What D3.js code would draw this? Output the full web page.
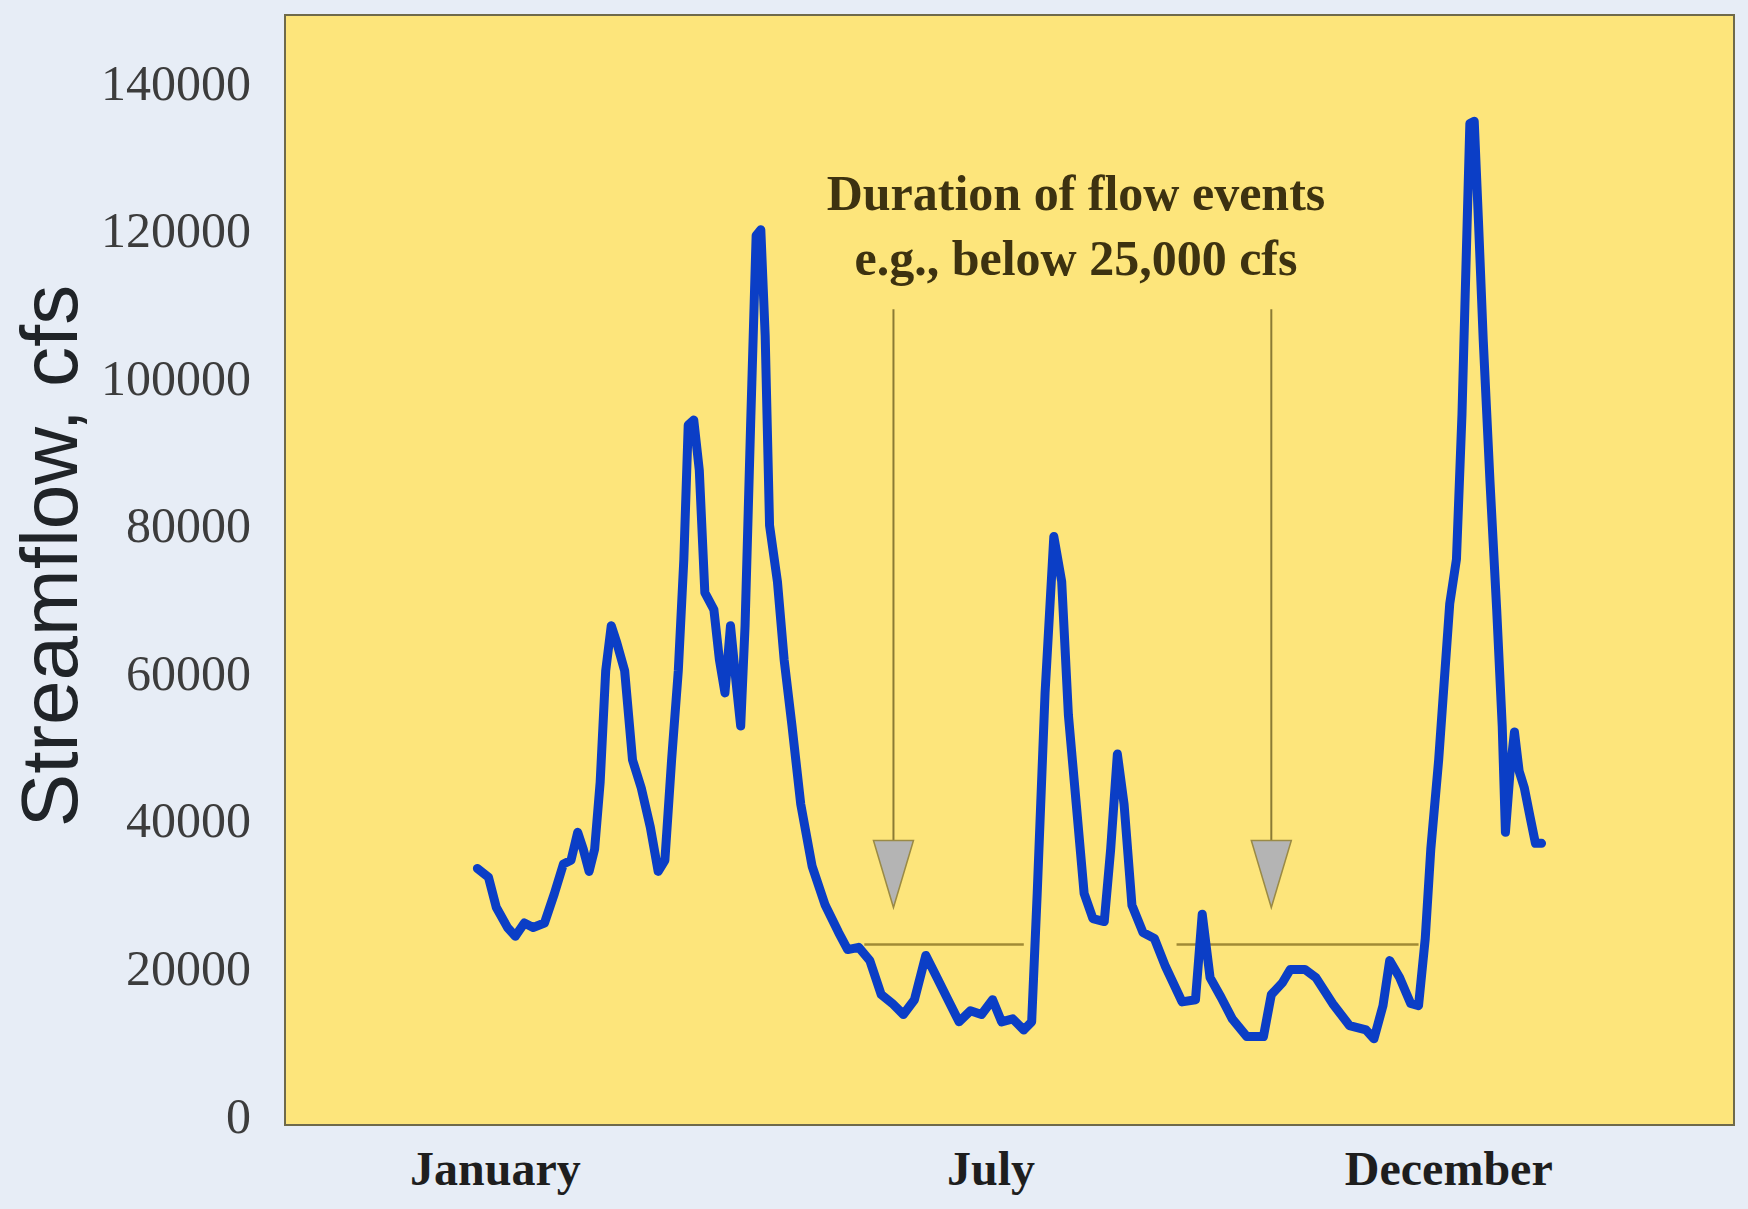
<!DOCTYPE html>
<html>
<head>
<meta charset="utf-8">
<script src="https://cdn.jsdelivr.net/npm/d3@7"></script>
<style>
  html, body { margin: 0; padding: 0; background: #e7edf6; }
  svg { display: block; }
</style>
</head>
<body>
<svg id="chart" width="1748" height="1209"></svg>
<script>
// ---- Data ----
const days = [0, 3.8, 6.5, 10.3, 13, 16.1, 19.1, 23, 26.4, 29.5, 32.1, 34.4, 36.3, 38.3, 40.2, 42.1, 44, 45.9, 47.8, 50.5,
  53.2, 56.2, 59.3, 62, 64.3, 66.6, 68.9, 70.8, 72.3, 74.2, 76.1, 78, 81.1, 83, 84.9, 86.8, 88.7, 90.3, 91.8, 93.7,
  95.6, 97.2, 98.7, 100.2, 102.9, 105.2, 107.9, 110.9, 114.8, 119.3, 123.9, 127, 130.8, 134.6, 138.5, 142.3, 146.1, 149.9, 153.8, 157.6,
  161.4, 165.2, 169.1, 172.9, 176.7, 179.8, 183.6, 187.4, 190.1, 192, 194.7, 197.7, 200.4, 202.7, 205.4, 208.1, 211.1, 215, 217.2, 219.5,
  221.8, 224.5, 228.3, 232.2, 236, 241.7, 246.3, 248.6, 251.3, 255.1, 258.9, 263.9, 269.6, 272.3, 276.1, 278.8, 283.8, 287.6, 293.3, 299.1,
  304.8, 307.5, 310.6, 312.9, 316.3, 320.1, 322.8, 325.1, 327, 329.7, 333.5, 335.8, 337.7, 339.2, 340.4, 341.9, 343.4, 345, 347.3, 349.6,
  351.5, 352.6, 354.2, 355.7, 357.3, 359.1, 361, 362.9, 365];
const flow = [33700, 32500, 28400, 25700, 24500, 26300, 25700, 26300, 30300, 34300, 34800, 38600, 36300, 33300, 36300, 45400, 60500, 66600, 64300, 60500,
  48400, 44600, 39300, 33300, 34800, 48400, 60500, 75600, 93800, 94500, 87700, 71100, 68800, 62000, 57500, 66600, 59000, 53000, 66600, 93800,
  119500, 120300, 105900, 80200, 72600, 62000, 53000, 42400, 34000, 28700, 25000, 22700, 23000, 21200, 16600, 15400, 13900, 15900, 21900, 18900,
  15900, 12900, 14400, 13900, 15900, 12900, 13300, 11800, 12900, 30300, 57500, 78700, 72600, 54500, 42400, 30300, 26900, 26500, 36300, 49200,
  42400, 28700, 25000, 24200, 20400, 15600, 15900, 27500, 18900, 16200, 13300, 10900, 10900, 16600, 18200, 20000, 20000, 18900, 15400, 12400,
  11800, 10600, 15100, 21200, 18900, 15400, 15100, 24200, 36300, 48400, 69600, 75600, 95300, 117300, 134700, 135000, 121000, 105200, 86200, 68800,
  53000, 38600, 46900, 52200, 46900, 44600, 40800, 37100, 37100];

const yTickValues = [0, 20000, 40000, 60000, 80000, 100000, 120000, 140000];
const monthLabels = ["January", "July", "December"];
const monthLabelDays = [6, 176, 333];

const thresholdValue = 23400;
const thresholdStartDays = [132.7, 239.8];
const thresholdEndDays = [187.4, 322.8];

const arrowDays = [142.7, 272.3];
const arrowTopValue = 109500;
const arrowHeadValue = 37500;
const arrowTipValue = 28400;

const noteLines = ["Duration of flow events", "e.g., below 25,000 cfs"];
const noteDay = 205.3;
const noteValues = [123000, 114100];

const yTitle = "Streamflow, cfs";

// ---- Layout ----
const W = 1748, H = 1209;
const plot = { left: 285, right: 1734, top: 15, bottom: 1125 };

const svg = d3.select("#chart");

const x = d3.scaleLinear().domain([-66, 431]).range([plot.left, plot.right]);
const y = d3.scaleLinear().domain([0, 150000]).range([1117, 10.6]);

// background
svg.append("rect").attr("x", 0).attr("y", 0).attr("width", W).attr("height", H).attr("fill", "#e7edf6");

// plot area
svg.append("rect")
  .attr("x", plot.left).attr("y", plot.top)
  .attr("width", plot.right - plot.left).attr("height", plot.bottom - plot.top)
  .attr("fill", "#fde57b")
  .attr("stroke", "#6f6a4a").attr("stroke-width", 2);

// y axis
const yAxis = svg.append("g")
  .attr("transform", `translate(${plot.left},0)`)
  .call(d3.axisLeft(y).tickValues(yTickValues).tickSize(0).tickPadding(34).tickFormat(d3.format("d")));
yAxis.select(".domain").remove();
yAxis.selectAll("text")
  .attr("font-family", "'Liberation Serif', 'Times New Roman', serif")
  .attr("font-size", 50)
  .attr("fill", "#3c3c3c")
  .attr("dy", "0.3em");

// x axis labels
const xAxis = svg.append("g")
  .attr("transform", `translate(0,${plot.bottom})`)
  .call(d3.axisBottom(x).tickValues(monthLabelDays).tickSize(0)
    .tickFormat((d, i) => monthLabels[i]));
xAxis.select(".domain").remove();
xAxis.selectAll("text")
  .attr("font-family", "'Liberation Serif', 'Times New Roman', serif")
  .attr("font-weight", "bold")
  .attr("font-size", 48)
  .attr("fill", "#1e1e1e")
  .attr("y", 60)
  .attr("dy", 0);

// y title
svg.append("text")
  .attr("transform", "translate(77,556) rotate(-90)")
  .attr("text-anchor", "middle")
  .attr("font-family", "'Liberation Sans', Arial, sans-serif")
  .attr("font-size", 80)
  .attr("fill", "#202428")
  .text(yTitle);

// threshold segments
const olive = "#a08a35";
svg.append("g").selectAll("line")
  .data(thresholdStartDays)
  .join("line")
  .attr("x1", d => x(d))
  .attr("x2", (d, i) => x(thresholdEndDays[i]))
  .attr("y1", y(thresholdValue))
  .attr("y2", y(thresholdValue))
  .attr("stroke", olive)
  .attr("stroke-width", 2.5);

// arrows
const arrows = svg.append("g");
arrows.selectAll("line")
  .data(arrowDays)
  .join("line")
  .attr("x1", d => x(d)).attr("x2", d => x(d))
  .attr("y1", y(arrowTopValue)).attr("y2", y(arrowHeadValue))
  .attr("stroke", "#8a7a35").attr("stroke-width", 2);
arrows.selectAll("path")
  .data(arrowDays)
  .join("path")
  .attr("d", d => {
    const cx = x(d), top = y(arrowHeadValue), tip = y(arrowTipValue);
    return `M${cx - 20},${top} L${cx + 20},${top} L${cx},${tip} Z`;
  })
  .attr("fill", "#b4b4b4")
  .attr("stroke", "#9a8a45")
  .attr("stroke-width", 1.5);

// annotation text
svg.append("g").selectAll("text")
  .data(noteLines)
  .join("text")
  .attr("x", x(noteDay))
  .attr("y", (d, i) => y(noteValues[i]))
  .attr("text-anchor", "middle")
  .attr("font-family", "'Liberation Serif', 'Times New Roman', serif")
  .attr("font-weight", "bold")
  .attr("font-size", 50)
  .attr("fill", "#3d3210")
  .text(d => d);

// flow line
const pts = days.map((d, i) => [d, flow[i]]);
svg.append("path")
  .datum(pts)
  .attr("fill", "none")
  .attr("stroke", "#0b3ec6")
  .attr("stroke-width", 9)
  .attr("stroke-linejoin", "round")
  .attr("stroke-linecap", "round")
  .attr("d", d3.line().x(d => x(d[0])).y(d => y(d[1])));
</script>
</body>
</html>
